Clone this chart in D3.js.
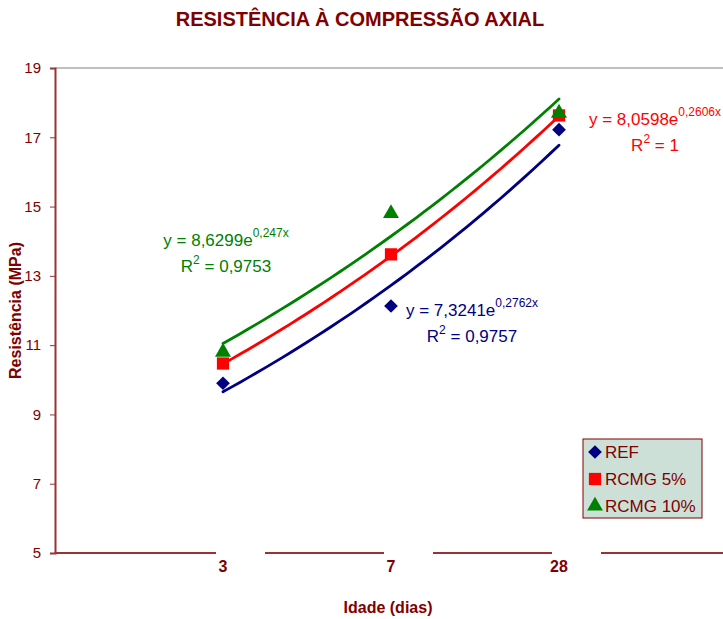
<!DOCTYPE html>
<html>
<head>
<meta charset="utf-8">
<script src="https://cdn.jsdelivr.net/npm/d3@7"></script>
<style>
  body { margin: 0; background: #fff; }
  text { font-family: Arial, "Liberation Sans", sans-serif; }
</style>
</head>
<body>
<div id="chart"></div>
<script>
const ages = ['3', '7', '28']
const ref = [9.9, 12.13, 17.22]
const rcmg5 = [10.47, 13.62, 17.63]
const rcmg10 = [10.8, 14.8, 17.7]
const yTicks = [5, 7, 9, 11, 13, 15, 17, 19]
// trendline coefficients y = a * e^(b x), x = 1..3
const trendA = [7.3241, 8.0598, 8.6299]
const trendB = [0.2762, 0.2606, 0.247]
const trendR2 = ['0,9757', '1', '0,9753']
const trendA_label = ['7,3241', '8,0598', '8,6299']
const trendB_label = ['0,2762x', '0,2606x', '0,247x']

const darkRed = '#800000'
const series = [
  { name: 'REF', values: ref, color: '#000080', shape: d3.symbolDiamond2, size: 120 },
  { name: 'RCMG 5%', values: rcmg5, color: '#ff0000', shape: d3.symbolSquare, size: 150 },
  { name: 'RCMG 10%', values: rcmg10, color: '#008000', shape: d3.symbolTriangle, size: 110 }
]

const width = 723, height = 619
const svg = d3.select('#chart').append('svg')
    .attr('width', width)
    .attr('height', height)

const x = d3.scaleLinear().domain([0, 4]).range([55, 727])
const y = d3.scaleLinear().domain([5, 19]).range([553, 68])

// title
svg.append('text')
    .attr('x', 360).attr('y', 26)
    .attr('text-anchor', 'middle')
    .attr('fill', darkRed)
    .style('font-size', '20px').style('font-weight', 'bold')
    .text('RESISTÊNCIA À COMPRESSÃO AXIAL')

// top border line of plot
svg.append('line')
    .attr('x1', x(0)).attr('x2', width)
    .attr('y1', y(19)).attr('y2', y(19))
    .attr('stroke', '#808080').attr('stroke-width', 1)

// x axis line
svg.append('line')
    .attr('x1', x(0)).attr('x2', width)
    .attr('y1', y(5)).attr('y2', y(5))
    .attr('stroke', '#993333').attr('stroke-width', 2)

// y axis
const yAxis = svg.append('g')
    .attr('transform', 'translate(' + x(0) + ',0)')
    .call(d3.axisLeft(y).tickValues(yTicks).tickSize(5).tickPadding(9))
yAxis.select('.domain').attr('stroke', '#993333').attr('stroke-width', 2)
yAxis.selectAll('.tick line').attr('stroke', '#993333')
yAxis.selectAll('.tick text')
    .attr('fill', darkRed)
    .style('font-size', '15px')
    .style('font-family', 'Arial, "Liberation Sans", sans-serif')

svg.append('text')
    .attr('transform', 'translate(21,' + y(12) + ') rotate(-90)')
    .attr('text-anchor', 'middle')
    .attr('fill', darkRed)
    .style('font-size', '16px').style('font-weight', 'bold')
    .text('Resistência (MPa)')

// x tick labels with white backgrounds (cover the axis line)
const xt = svg.append('g')
ages.forEach((a, i) => {
  const cx = x(i + 1)
  xt.append('rect')
      .attr('x', cx - 7).attr('y', 549)
      .attr('width', 49).attr('height', 26)
      .attr('fill', '#fff')
  xt.append('text')
      .attr('x', cx).attr('y', 572)
      .attr('text-anchor', 'middle')
      .attr('fill', darkRed)
      .style('font-size', '16px').style('font-weight', 'bold')
      .text(a)
})

svg.append('text')
    .attr('x', 388).attr('y', 613)
    .attr('text-anchor', 'middle')
    .attr('fill', darkRed)
    .style('font-size', '16px').style('font-weight', 'bold')
    .text('Idade (dias)')

// trendlines
const line = d3.line()
    .x(d => x(d[0]))
    .y(d => y(d[1]))
series.forEach((s, k) => {
  const pts = d3.range(0, 41).map(j => {
    const t = 1 + j / 20
    return [t, trendA[k] * Math.exp(trendB[k] * t)]
  })
  svg.append('path')
      .datum(pts)
      .attr('fill', 'none')
      .attr('stroke', s.color)
      .attr('stroke-width', 2.8)
      .attr('stroke-linecap', 'round')
      .attr('d', line)
})

// markers
series.forEach(s => {
  svg.append('g').selectAll('path')
      .data(s.values)
      .join('path')
      .attr('transform', (d, i) => 'translate(' + x(i + 1) + ',' + y(d) + ')')
      .attr('d', d3.symbol().type(s.shape).size(s.size))
      .attr('fill', s.color)
})

// equation labels
const eqPos = [[472, 316], [655, 125], [226, 246]]
series.forEach((s, k) => {
  const g = svg.append('g').attr('fill', s.color).style('font-size', '17px')
  const t = g.append('text')
      .attr('x', eqPos[k][0]).attr('y', eqPos[k][1])
      .attr('text-anchor', 'middle')
  t.append('tspan').text('y = ' + trendA_label[k] + 'e')
  t.append('tspan').attr('dy', -9).style('font-size', '12px').text(trendB_label[k])
  const r = g.append('text')
      .attr('x', eqPos[k][0]).attr('y', eqPos[k][1] + 26)
      .attr('text-anchor', 'middle')
  r.append('tspan').text('R')
  r.append('tspan').attr('dy', -8).style('font-size', '12px').text('2')
  r.append('tspan').attr('dy', 8).text(' = ' + trendR2[k])
})

// legend
const legend = svg.append('g').attr('transform', 'translate(583,439)')
legend.append('rect')
    .attr('width', 119).attr('height', 79)
    .attr('fill', '#cce0d8')
    .attr('stroke', darkRed).attr('stroke-width', 1)
series.forEach((s, k) => {
  const ly = 13 + k * 27
  legend.append('path')
      .attr('transform', 'translate(12,' + ly + ')')
      .attr('d', d3.symbol().type(s.shape).size(s.size))
      .attr('fill', s.color)
  legend.append('text')
      .attr('x', 22).attr('y', ly + 6)
      .attr('fill', darkRed)
      .style('font-size', '17px')
      .text(s.name)
})
</script>
</body>
</html>
